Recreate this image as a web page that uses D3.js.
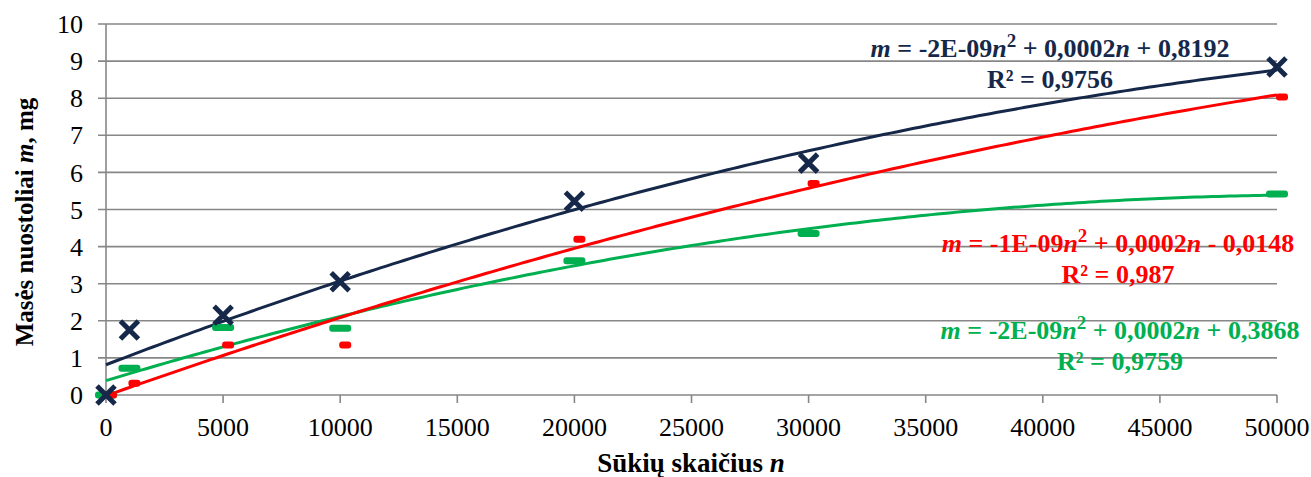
<!DOCTYPE html>
<html>
<head>
<meta charset="utf-8">
<script src="https://cdn.jsdelivr.net/npm/d3@7"></script>
<style>
  html, body { margin: 0; padding: 0; background: #fff; }
  svg { display: block; font-family: "Liberation Serif", "Times New Roman", serif; }
</style>
</head>
<body>
<svg id="chart" width="1311" height="477"></svg>
<script>
// Number of revolutions at which mass loss was measured
const revolutions = [0, 1000, 5000, 10000, 20000, 30000, 50000];
// Mass loss, mg, for each sample
const lossNavy  = [0, 1.75, 2.15, 3.05, 5.22, 6.25, 8.84];
const lossRed   = [0, 0.32, 1.35, 1.35, 4.20, 5.70, 8.03];
const lossGreen = [0, 0.72, 1.82, 1.80, 3.62, 4.35, 5.42];

const xTicks = [0, 5000, 10000, 15000, 20000, 25000, 30000, 35000, 40000, 45000, 50000];
const yTicks = [0, 1, 2, 3, 4, 5, 6, 7, 8, 9, 10];

// Trendline labels
const eqNavy  = { sign: "-2E-09", b: "0,0002", c: "+ 0,8192", r2: "R² = 0,9756" };
const eqRed   = { sign: "-1E-09", b: "0,0002", c: "- 0,0148", r2: "R² = 0,987" };
const eqGreen = { sign: "-2E-09", b: "0,0002", c: "+ 0,3868", r2: "R² = 0,9759" };

const svg = d3.select("#chart");
const x = d3.scaleLinear().domain([0, 50000]).range([106, 1277]);
const y = d3.scaleLinear().domain([0, 10]).range([395, 24]);
const gridColor = "#878787";

// Least-squares quadratic fit (polynomial trendline of order 2)
function quadFit(xs, ys) {
  const n = xs.length;
  let s = [0, 0, 0, 0, 0], t = [0, 0, 0];
  for (let i = 0; i < n; i++) {
    const xi = xs[i] / 10000, yi = ys[i];
    let p = 1;
    for (let k = 0; k < 5; k++) { s[k] += p; if (k < 3) t[k] += p * yi; p *= xi; }
  }
  const A = [[s[0], s[1], s[2], t[0]], [s[1], s[2], s[3], t[1]], [s[2], s[3], s[4], t[2]]];
  for (let i = 0; i < 3; i++) {
    for (let j = i + 1; j < 3; j++) {
      const f = A[j][i] / A[i][i];
      for (let k = i; k < 4; k++) A[j][k] -= f * A[i][k];
    }
  }
  const c = [0, 0, 0];
  for (let i = 2; i >= 0; i--) {
    let v = A[i][3];
    for (let k = i + 1; k < 3; k++) v -= A[i][k] * c[k];
    c[i] = v / A[i][i];
  }
  return v => { const u = v / 10000; return c[0] + c[1] * u + c[2] * u * u; };
}

// Horizontal gridlines with left tick extension
svg.append("g").selectAll("line").data(yTicks).join("line")
  .attr("x1", 98).attr("x2", x(50000))
  .attr("y1", d => y(d)).attr("y2", d => y(d))
  .attr("stroke", gridColor).attr("stroke-width", 1.6);

// Y axis line
svg.append("line").attr("x1", x(0)).attr("x2", x(0)).attr("y1", y(10)).attr("y2", y(0))
  .attr("stroke", gridColor).attr("stroke-width", 1.6);

// X axis ticks
svg.append("g").selectAll("line").data(xTicks).join("line")
  .attr("x1", d => x(d)).attr("x2", d => x(d))
  .attr("y1", y(0)).attr("y2", y(0) + 8)
  .attr("stroke", gridColor).attr("stroke-width", 1.6);

// Tick labels
svg.append("g").selectAll("text").data(yTicks).join("text")
  .attr("x", 83).attr("y", d => y(d)).attr("dy", "0.35em")
  .attr("text-anchor", "end").attr("font-size", 26).attr("fill", "#000")
  .text(d => d);
svg.append("g").selectAll("text").data(xTicks).join("text")
  .attr("x", d => x(d)).attr("y", 436)
  .attr("text-anchor", "middle").attr("font-size", 26).attr("fill", "#000")
  .text(d => d);

// Axis titles
const xt = svg.append("text").attr("x", 691).attr("y", 472)
  .attr("text-anchor", "middle").attr("font-size", 27).attr("font-weight", "bold");
xt.append("tspan").text("Sūkių skaičius ");
xt.append("tspan").attr("font-style", "italic").text("n");

const yt = svg.append("text").attr("transform", "translate(33,222) rotate(-90)")
  .attr("text-anchor", "middle").attr("font-size", 25).attr("font-weight", "bold");
yt.append("tspan").text("Masės nuostoliai ");
yt.append("tspan").attr("font-style", "italic").text("m");
yt.append("tspan").text(", mg");

// Series
const series = [
  { key: "green", values: lossGreen, color: "#00B050", marker: "wide", eq: eqGreen, lx: 1120, ly: 330 },
  { key: "red",   values: lossRed,   color: "#FF0000", marker: "short", eq: eqRed,  lx: 1118, ly: 243 },
  { key: "navy",  values: lossNavy,  color: "#16284A", marker: "cross", eq: eqNavy, lx: 1050, ly: 48 }
];

const samples = d3.range(0, 50001, 250);

// Trendlines
series.forEach(s => {
  const f = quadFit(revolutions, s.values);
  svg.append("path")
    .datum(samples)
    .attr("fill", "none").attr("stroke", s.color).attr("stroke-width", 3)
    .attr("d", d3.line().x(d => x(d)).y(d => y(f(d))));
});

// Markers
series.forEach(s => {
  const g = svg.append("g");
  const pts = revolutions.map((n, i) => [n, s.values[i]]);
  if (s.marker === "cross") {
    g.selectAll("path").data(pts).join("path")
      .attr("transform", d => `translate(${x(d[0])},${y(d[1])})`)
      .attr("d", "M-9,-9L9,9M-9,9L9,-9")
      .attr("stroke", s.color).attr("stroke-width", 5).attr("fill", "none");
  } else {
    const w = s.marker === "wide" ? 22 : 12;
    const dx = s.marker === "wide" ? 0 : 5;
    g.selectAll("rect").data(pts).join("rect")
      .attr("x", d => x(d[0]) - w / 2 + dx).attr("y", d => y(d[1]) - 3.5)
      .attr("width", w).attr("height", 7).attr("rx", 3)
      .attr("fill", s.color);
  }
});

// Trendline equations
series.forEach(s => {
  const t = svg.append("text").attr("x", s.lx).attr("y", s.ly).attr("dy", "0.35em")
    .attr("text-anchor", "middle").attr("font-size", 26).attr("font-weight", "bold")
    .attr("fill", s.color);
  t.append("tspan").attr("font-style", "italic").text("m");
  t.append("tspan").text(` = ${s.eq.sign}`);
  t.append("tspan").attr("font-style", "italic").text("n");
  t.append("tspan").attr("font-size", 19).attr("baseline-shift", "super").text("2");
  t.append("tspan").text(` + ${s.eq.b}`);
  t.append("tspan").attr("font-style", "italic").text("n");
  t.append("tspan").text(` ${s.eq.c}`);
  svg.append("text").attr("x", s.lx).attr("y", s.ly + 31).attr("dy", "0.35em")
    .attr("text-anchor", "middle").attr("font-size", 26).attr("font-weight", "bold")
    .attr("fill", s.color).text(s.eq.r2);
});
</script>
</body>
</html>
